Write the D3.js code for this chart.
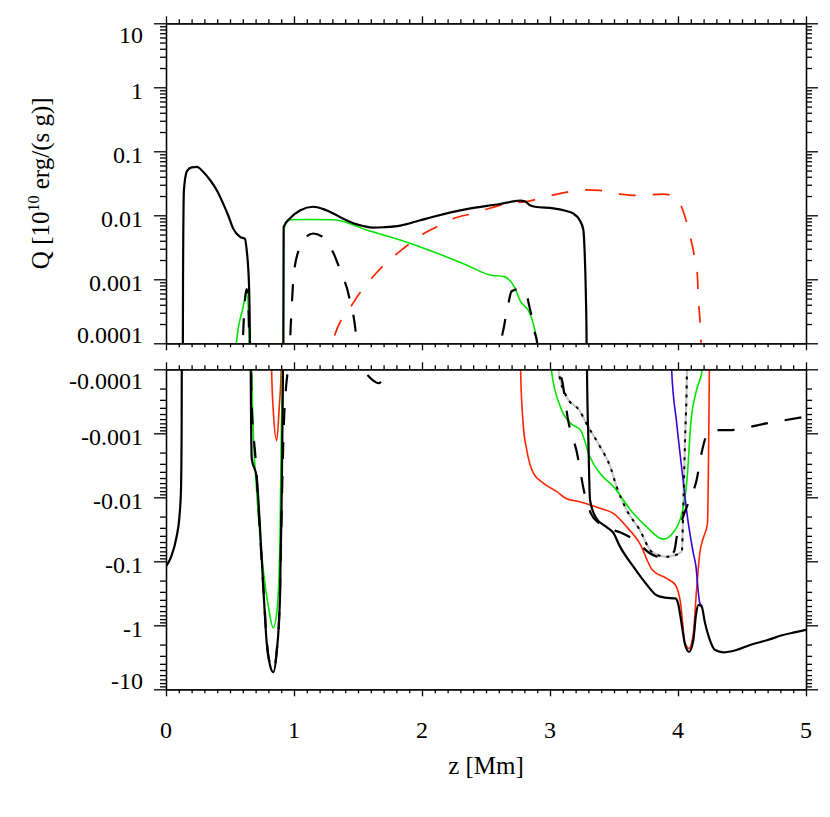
<!DOCTYPE html>
<html>
<head>
<meta charset="utf-8">
<script src="https://cdn.jsdelivr.net/npm/d3@7"></script>
<style>
  body { margin: 0; background: #fff; }
  svg { display: block; }
  text { font-family: "Liberation Serif", "Times New Roman", serif; fill: #000; }
</style>
</head>
<body>
<div id="chart"></div>
<script>
// ---- axis data ----
const zTicks = [0, 1, 2, 3, 4, 5];
const zLabels = ["0", "1", "2", "3", "4", "5"];
const qDecades = [1e-4, 1e-3, 1e-2, 1e-1, 1, 10];
const qTopLabels = ["0.0001", "0.001", "0.01", "0.1", "1", "10"];
const qBotLabels = ["-0.0001", "-0.001", "-0.01", "-0.1", "-1", "-10"];

// ---- series: [z (Mm), Q (1e10 erg/(s g))], signed ----
const blackTotal = [
  [0, -0.12], [0.04, -0.085], [0.083, -0.041], [0.105, -0.02], [0.117, -0.0077], [0.122, -0.001],
  [0.126, -1e-6], [0.129, 1e-6], [0.133, 0.001], [0.14, 0.025], [0.164, 0.049], [0.2, 0.056],
  [0.24, 0.057], [0.29, 0.048], [0.344, 0.0356], [0.4, 0.024], [0.445, 0.0155], [0.49, 0.0095],
  [0.523, 0.0063], [0.578, 0.0046], [0.617, 0.0043], [0.63, 0.0029], [0.648, 0.00087], [0.656, 0.0001],
  [0.658, 1e-6], [0.66, -1e-6], [0.662, -1e-4], [0.67, -0.0025], [0.708, -0.0048], [0.734, -0.029],
  [0.76, -0.25], [0.786, -1.8], [0.8125, -4.2], [0.838, -5.4], [0.865, -2.6], [0.89, -0.4],
  [0.903, -0.014], [0.91, -0.0007], [0.914, -1e-4], [0.915, -1e-6], [0.916, 1e-6], [0.917, 1e-4],
  [0.919, 0.0066], [0.969, 0.009], [1.05, 0.012], [1.15, 0.0136], [1.23, 0.0125], [1.307, 0.0107],
  [1.385, 0.0088], [1.463, 0.0075], [1.54, 0.0068], [1.619, 0.0064], [1.7, 0.0065], [1.83, 0.0069],
  [1.98, 0.0083], [2.088, 0.0095], [2.35, 0.0125], [2.61, 0.015], [2.766, 0.0169], [2.805, 0.0165],
  [2.84, 0.0145], [2.883, 0.0136], [3.026, 0.0128], [3.12, 0.0118], [3.18, 0.0107], [3.23, 0.0085],
  [3.26, 0.006], [3.27, 0.0029], [3.28, 0.0006], [3.286, 0.0001], [3.287, 1e-6], [3.288, -1e-6],
  [3.289, -1e-4], [3.3, -0.0013], [3.3125, -0.011], [3.36, -0.021], [3.44, -0.029], [3.495, -0.036],
  [3.547, -0.059], [3.65, -0.12], [3.755, -0.23], [3.833, -0.34], [3.9, -0.37], [3.98, -0.38],
  [4.0, -0.45], [4.03, -1.0], [4.055, -2.0], [4.086, -2.6], [4.12, -1.7], [4.14, -0.7],
  [4.16, -0.48], [4.185, -0.51], [4.21, -0.9], [4.24, -1.5], [4.29, -2.43], [4.355, -2.64],
  [4.45, -2.45], [4.5625, -2.03], [4.7, -1.7], [4.82, -1.42], [4.92, -1.28], [5.0, -1.18]
];

const greenQ = [
  [0.53, 1e-6], [0.545, 1e-5], [0.55, 0.0001], [0.6, 0.00035], [0.63, 0.0006], [0.645, 0.0003],
  [0.655, 1e-5], [0.66, 1e-6], [0.665, -1e-6], [0.67, -1e-4], [0.68, -0.0007], [0.708, -0.0078],
  [0.76, -0.137], [0.8, -0.51], [0.838, -1.1], [0.87, -0.51], [0.89, -0.047], [0.9, -0.0013],
  [0.908, -1e-4], [0.912, -1e-6], [0.914, 1e-6], [0.916, 0.0001], [0.92, 0.006], [0.969, 0.0085],
  [1.1, 0.0086], [1.307, 0.0085], [1.568, 0.0059], [1.83, 0.0041], [2.088, 0.0027], [2.35, 0.00166],
  [2.53, 0.00117], [2.64, 0.0011], [2.72, 0.00077], [2.77, 0.00045], [2.84, 0.0003], [2.9, 0.0001],
  [2.95, 1e-5], [2.98, 1e-6], [3.0, -1e-6], [3.01, -1e-4], [3.08, -0.00038], [3.16, -0.0007],
  [3.24, -0.0009], [3.31, -0.0023], [3.39, -0.0042], [3.495, -0.0068], [3.65, -0.0178], [3.755, -0.029],
  [3.885, -0.045], [3.96, -0.036], [4.03, -0.0178], [4.07, -0.0054], [4.1, -0.0007], [4.145, -0.00021],
  [4.19, -1e-4], [4.2, -1e-6]
];

const redQ = [
  [0.82, -1e-6], [0.825, -1e-4], [0.838, -0.00044], [0.865, -0.0013], [0.885, -0.00038], [0.9, -1e-4],
  [0.905, -1e-6], [2.76, -1e-6], [2.77, -1e-4], [2.79, -0.0007], [2.818, -0.0018], [2.87, -0.0042],
  [2.948, -0.006], [3.05, -0.0081], [3.13, -0.0105], [3.23, -0.0117], [3.39, -0.0148], [3.495, -0.0178],
  [3.6, -0.029], [3.7, -0.052], [3.8, -0.137], [3.91, -0.185], [3.98, -0.234], [4.02, -0.45],
  [4.055, -1.9], [4.086, -2.3], [4.12, -1.33], [4.145, -0.28], [4.17, -0.075], [4.2, -0.042],
  [4.23, -0.026], [4.24, -0.00126], [4.245, -1e-4], [4.25, -1e-6]
];

const redDashedQ = [
  [1.27, 1e-6], [1.3, 0.0001], [1.46, 0.00042], [1.65, 0.0013], [1.87, 0.0032], [1.98, 0.0047],
  [2.115, 0.0066], [2.245, 0.0089], [2.4, 0.0107], [2.53, 0.0129], [2.69, 0.0155], [2.8, 0.0162],
  [2.97, 0.0195], [3.1, 0.0224], [3.28, 0.025], [3.39, 0.0245], [3.55, 0.0214], [3.68, 0.0204],
  [3.885, 0.0214], [3.977, 0.0195], [4.055, 0.0095], [4.09, 0.0052], [4.13, 0.0022], [4.15, 0.00126],
  [4.16, 0.00048], [4.18, 0.0001], [4.19, 1e-6]
];

const blackDashedQ = [
  [0.58, 1e-6], [0.6, 1e-4], [0.63, 0.0007], [0.645, 0.0003], [0.655, 1e-5], [0.66, -1e-5],
  [0.67, -0.0004], [0.7, -0.0025], [0.72, -0.012], [0.76, -0.25], [0.8, -3.0], [0.838, -5.0],
  [0.865, -2.5], [0.89, -0.35], [0.905, -0.012], [0.92, -0.0008], [0.94, -0.00017], [0.95, -1e-4],
  [0.955, -1e-6], [0.96, 1e-6], [0.97, 0.0001], [0.98, 0.0003], [1.0, 0.0013], [1.05, 0.0033],
  [1.1, 0.0047], [1.15, 0.0052], [1.215, 0.0047], [1.307, 0.0026], [1.36, 0.0014], [1.43, 0.00054],
  [1.49, 0.0001], [1.51, 1e-6], [1.52, -1e-6], [1.53, -1e-4], [1.56, -0.000115], [1.62, -0.00015],
  [1.66, -0.000165], [1.7, -0.00014], [1.75, -1e-4], [1.77, -1e-6], [1.8, 1e-6], [2.6, 1e-6],
  [2.62, 0.0001], [2.64, 0.00018], [2.67, 0.00037], [2.7, 0.00065], [2.75, 0.0007], [2.8, 0.00068],
  [2.84, 0.00037], [2.88, 0.00015], [2.9, 0.0001], [2.93, 1e-6], [3.05, -1e-6], [3.08, -1e-4],
  [3.1, -0.00017], [3.14, -0.0006], [3.21, -0.002], [3.27, -0.0087], [3.32, -0.018], [3.39, -0.026],
  [3.46, -0.031], [3.56, -0.036], [3.676, -0.049], [3.78, -0.075], [3.85, -0.085], [3.91, -0.085],
  [3.97, -0.07], [3.99, -0.042], [4.04, -0.02], [4.09, -0.011], [4.145, -0.0054], [4.185, -0.002],
  [4.21, -0.00126], [4.26, -0.00089], [4.4, -0.00089], [4.69, -0.0007], [5.0, -0.00055]
];

const grayQ = [
  [3.04, -1e-6], [3.065, -1e-4], [3.13, -0.00027], [3.23, -0.00044], [3.3, -0.0008], [3.39, -0.0016],
  [3.47, -0.0033], [3.52, -0.0068], [3.6, -0.016], [3.7, -0.032], [3.795, -0.071], [3.91, -0.085],
  [4.03, -0.071], [4.04, -0.0178], [4.055, -0.00126], [4.07, -1e-4], [4.075, -1e-6]
];

const blueQ = [
  [3.93, -1e-6], [3.95, -1e-4], [3.99, -0.0007], [4.04, -0.0054], [4.07, -0.0178], [4.12, -0.075],
  [4.14, -0.12], [4.16, -0.32], [4.17, -0.45], [4.19, -0.5]
];

// ---- layout ----
const width = 830, height = 817;
const x0 = 166, x1 = 806;
const top1 = 23.3, bot1 = 343.3, top2 = 369.3, bot2 = 689.3;

const svg = d3.select("#chart").append("svg")
  .attr("width", width).attr("height", height);

const x = d3.scaleLinear().domain([0, 5]).range([x0, x1]);
const yTop = d3.scaleLog().domain([1e-4, 10]).range([bot1, top1]);
const yBot = d3.scaleLog().domain([1e-4, 10]).range([top2, bot2]);

const defs = svg.append("defs");
defs.append("clipPath").attr("id", "clipTop").append("rect")
  .attr("x", x0).attr("y", top1).attr("width", x1 - x0).attr("height", bot1 - top1);
defs.append("clipPath").attr("id", "clipBot").append("rect")
  .attr("x", x0).attr("y", top2).attr("width", x1 - x0).attr("height", bot2 - top2);

// positive values go in the upper panel, negative ones (by magnitude) in the lower
const lineTop = d3.line().defined(d => d[1] > 0)
  .x(d => x(d[0])).y(d => yTop(d[1])).curve(d3.curveMonotoneX);
const lineBot = d3.line().defined(d => d[1] < 0)
  .x(d => x(d[0])).y(d => yBot(-d[1])).curve(d3.curveMonotoneX);

const styles = [
  { data: grayQ, color: "#c8c8c8", w: 2.2, dash: null },
  { data: redDashedQ, color: "#ff2400", w: 1.7, dash: "17,17" },
  { data: redQ, color: "#ff2400", w: 1.6, dash: null },
  { data: greenQ, color: "#00e600", w: 1.6, dash: null },
  { data: blueQ, color: "#3a00d8", w: 1.6, dash: null },
  { data: blackDashedQ, color: "#000", w: 2.2, dash: "17,17" },
  { data: grayQ, color: "#000", w: 2, dash: "3,6" },
  { data: blackTotal, color: "#000", w: 2.2, dash: null }
];

const gTop = svg.append("g").attr("clip-path", "url(#clipTop)");
const gBot = svg.append("g").attr("clip-path", "url(#clipBot)");
styles.forEach(s => {
  [[gTop, lineTop], [gBot, lineBot]].forEach(([g, gen]) => {
    g.append("path")
      .attr("d", gen(s.data))
      .attr("fill", "none")
      .attr("stroke", s.color)
      .attr("stroke-width", s.w)
      .attr("stroke-dasharray", s.dash)
      .attr("stroke-linejoin", "round");
  });
});

// ---- axes ----
const zMinor = d3.range(0, 51).map(i => i / 10).filter(v => !zTicks.includes(v));
const qMinor = [];
qDecades.slice(0, -1).forEach(d => { for (let k = 2; k <= 9; k++) qMinor.push(d * k); });

function styleAxis(g) {
  g.selectAll("path, line").attr("stroke", "#000").attr("stroke-width", 1.3);
  g.selectAll("text").remove();
}

function xAxes(yPos, orient) {
  const mk = orient === "top" ? d3.axisTop : d3.axisBottom;
  svg.append("g").attr("transform", `translate(0,${yPos})`)
    .call(mk(x).tickValues(zTicks).tickSize(7).tickSizeOuter(0)).call(styleAxis);
  svg.append("g").attr("transform", `translate(0,${yPos})`)
    .call(mk(x).tickValues(zMinor).tickSize(4).tickSizeOuter(0)).call(styleAxis);
}

function yAxes(scale, labels, top, bot) {
  [[d3.axisLeft, x0], [d3.axisRight, x1]].forEach(([mk, xPos]) => {
    svg.append("g").attr("transform", `translate(${xPos},0)`)
      .call(mk(scale).tickValues(qDecades).tickSize(12).tickSizeOuter(0)).call(styleAxis);
    svg.append("g").attr("transform", `translate(${xPos},0)`)
      .call(mk(scale).tickValues(qMinor).tickSize(6).tickSizeOuter(0)).call(styleAxis);
  });
  // end labels are nudged inside the panel, like the original plot
  svg.append("g").selectAll("text").data(qDecades).join("text")
    .attr("x", x0 - 23)
    .attr("y", d => Math.min(Math.max(scale(d) + 3, top + 11), bot - 9))
    .attr("dy", "0.35em")
    .attr("text-anchor", "end")
    .attr("font-size", 24)
    .text((d, i) => labels[i]);
}

xAxes(top1, "top");
xAxes(bot1, "bottom");
xAxes(top2, "top");
xAxes(bot2, "bottom");
yAxes(yTop, qTopLabels, top1, bot1);
yAxes(yBot, qBotLabels, top2, bot2);

svg.append("g").selectAll("text").data(zTicks).join("text")
  .attr("x", d => x(d))
  .attr("y", 738)
  .attr("text-anchor", "middle")
  .attr("font-size", 24)
  .text((d, i) => zLabels[i]);

svg.append("text")
  .attr("x", (x0 + x1) / 2)
  .attr("y", 774)
  .attr("text-anchor", "middle")
  .attr("font-size", 25)
  .text("z [Mm]");

const ylab = svg.append("text")
  .attr("transform", `translate(49,${(top1 + bot1) / 2}) rotate(-90)`)
  .attr("text-anchor", "middle")
  .attr("font-size", 25);
ylab.append("tspan").text("Q [10");
ylab.append("tspan").attr("dy", -10).attr("font-size", 16).text("10");
ylab.append("tspan").attr("dy", 10).text(" erg/(s g)]");
</script>
</body>
</html>
